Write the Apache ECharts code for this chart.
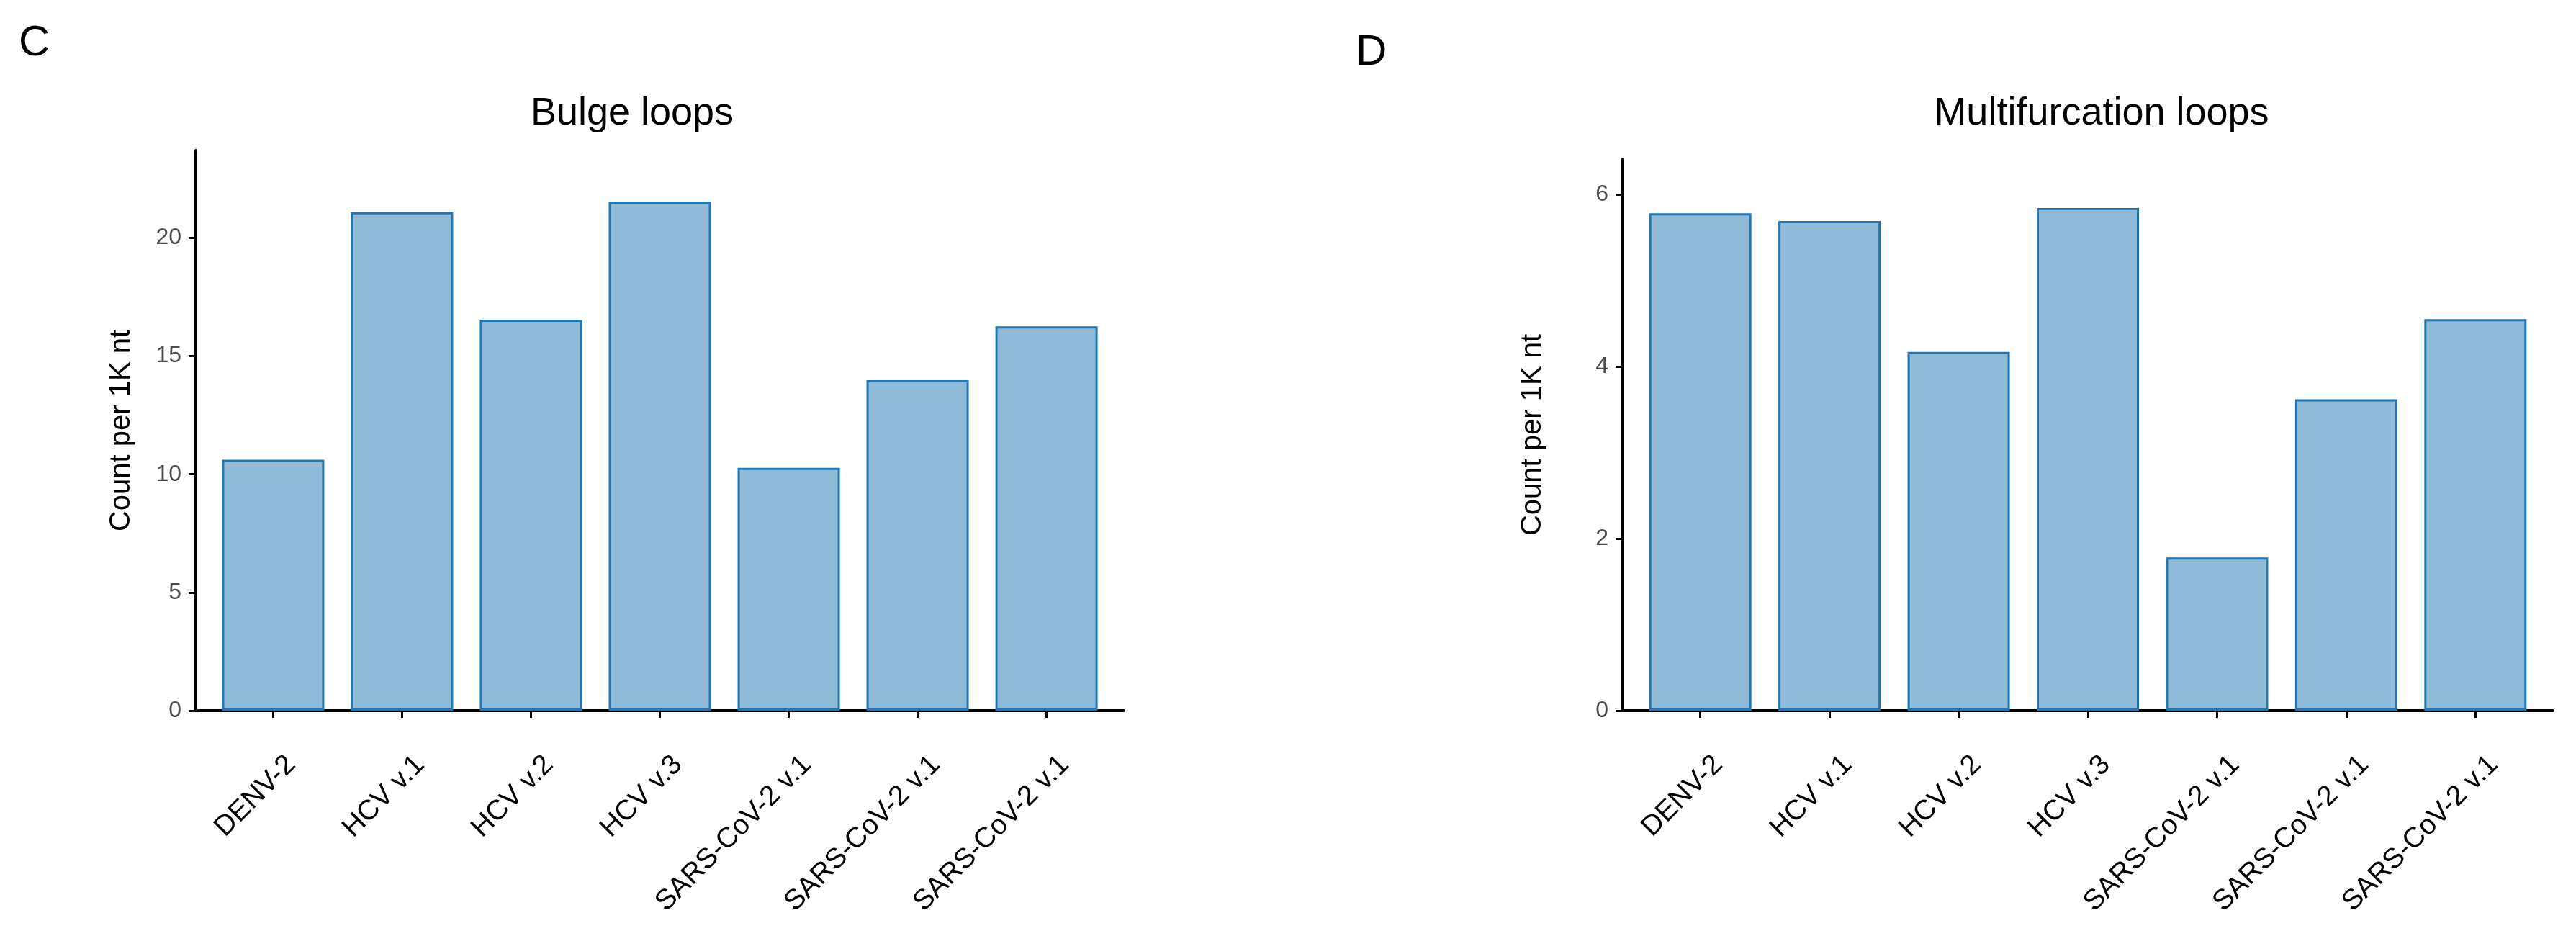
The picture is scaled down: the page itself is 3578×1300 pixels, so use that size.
<!DOCTYPE html>
<html>
<head>
<meta charset="utf-8">
<script src="https://cdn.jsdelivr.net/npm/echarts@6/dist/echarts.min.js"></script>
<style>
  html, body { margin: 0; padding: 0; background: #ffffff; }
  #chart { width: 3578px; height: 1300px; }
</style>
</head>
<body>
<div id="chart"></div>
<script>
const categories = ['DENV-2', 'HCV v.1', 'HCV v.2', 'HCV v.3', 'SARS-CoV-2 v.1', 'SARS-CoV-2 v.1', 'SARS-CoV-2 v.1'];
const bulgeValues = [10.62, 21.09, 16.54, 21.54, 10.27, 13.98, 16.26];
const multiValues = [5.78, 5.69, 4.17, 5.84, 1.78, 3.62, 4.55];
const bulgeTicks = [0, 5, 10, 15, 20];
const multiTicks = [0, 2, 4, 6];
const bulgeMax = 23.7;
const multiMax = 6.41;
const panelTitles = ['Bulge loops', 'Multifurcation loops'];
const panelLetters = ['C', 'D'];
const yAxisTitle = 'Count per 1K nt';

const FONT = '"Liberation Sans", Arial, Helvetica, sans-serif';
const catIdx = categories.map((_, i) => i);

function xAxisFor(gridIndex) {
  return {
    type: 'value', gridIndex, min: -0.6, max: 6.6,
    axisLine: { show: true, onZero: false, lineStyle: { color: '#000', width: 4 } },
    axisTick: { show: true, customValues: catIdx, length: 10, lineStyle: { color: '#000', width: 3 } },
    axisLabel: {
      customValues: catIdx,
      formatter: v => categories[Math.round(v)],
      rotate: 45, margin: 44, align: 'right', verticalAlign: 'top', padding: [16, 0, 0, 0],
      fontFamily: FONT, fontSize: 39, color: '#000'
    },
    splitLine: { show: false }
  };
}
function yAxisFor(gridIndex, max, ticks, gap) {
  return {
    type: 'value', gridIndex, min: 0, max,
    name: yAxisTitle, nameLocation: 'middle', nameGap: gap, nameRotate: 90,
    nameTextStyle: { fontFamily: FONT, fontSize: 40, color: '#000' },
    axisLine: { show: true, onZero: false, lineStyle: { color: '#000', width: 4 } },
    axisTick: { show: true, customValues: ticks, length: 10, lineStyle: { color: '#000', width: 3 } },
    axisLabel: { customValues: ticks, margin: 20, fontFamily: FONT, fontSize: 32, color: '#4d4d4d' },
    splitLine: { show: false }
  };
}
function barSeries(idx, values) {
  return {
    type: 'bar', xAxisIndex: idx, yAxisIndex: idx,
    data: values.map((v, i) => [i, v]),
    barWidth: 142,
    itemStyle: { color: '#8fbbd9', borderColor: '#1f77b4', borderWidth: 3 },
    emphasis: { disabled: true },
    animation: false
  };
}

const chart = echarts.init(document.getElementById('chart'), null, { renderer: 'canvas' });
chart.setOption({
  backgroundColor: '#ffffff',
  animation: false,
  title: [
    { text: panelLetters[0], left: 21, top: 25, textStyle: { fontFamily: FONT, fontSize: 60, fontWeight: 'normal', color: '#000' } },
    { text: panelLetters[1], left: 1878, top: 38, textStyle: { fontFamily: FONT, fontSize: 60, fontWeight: 'normal', color: '#000' } },
    { text: panelTitles[0], left: 873, top: 126, textAlign: 'center', textStyle: { fontFamily: FONT, fontSize: 54, fontWeight: 'normal', color: '#000' } },
    { text: panelTitles[1], left: 2914, top: 126, textAlign: 'center', textStyle: { fontFamily: FONT, fontSize: 54, fontWeight: 'normal', color: '#000' } }
  ],
  grid: [
    { left: 272, right: 3578 - 1561, top: 209, bottom: 1300 - 987 },
    { left: 2254, right: 3578 - 3546, top: 221, bottom: 1300 - 987 }
  ],
  xAxis: [xAxisFor(0), xAxisFor(1)],
  yAxis: [yAxisFor(0, bulgeMax, bulgeTicks, 83), yAxisFor(1, multiMax, multiTicks, 105)],
  series: [barSeries(0, bulgeValues), barSeries(1, multiValues)]
});
</script>
</body>
</html>
